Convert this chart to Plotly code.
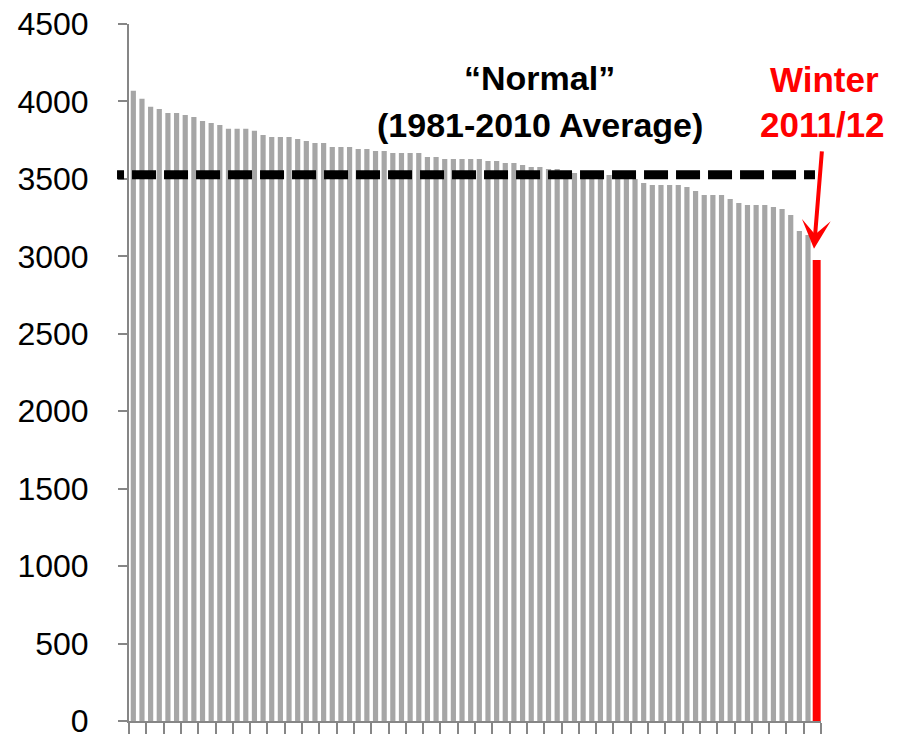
import plotly.graph_objects as go

# Winters ranked from highest to lowest value (last = Winter 2011/12)
ranks = [str(i) for i in range(1, 81)]
values = [
    4069, 4017, 3965, 3952, 3926, 3926, 3913, 3900, 3874, 3861,
    3848, 3823, 3823, 3823, 3810, 3784, 3771, 3771, 3771, 3758,
    3745, 3732, 3732, 3706, 3706, 3706, 3693, 3693, 3680, 3680,
    3667, 3667, 3667, 3667, 3641, 3641, 3628, 3628, 3628, 3628,
    3628, 3615, 3615, 3602, 3602, 3589, 3577, 3577, 3564, 3564,
    3551, 3538, 3535, 3530, 3528, 3525, 3518, 3510, 3500, 3474,
    3461, 3461, 3461, 3461, 3448, 3422, 3396, 3396, 3396, 3370,
    3344, 3331, 3331, 3331, 3318, 3305, 3267, 3163, 3137, 2976,
]
normal_value = 3526
y_ticks = [0, 500, 1000, 1500, 2000, 2500, 3000, 3500, 4000, 4500]

GRAY = "#A6A6A6"
RED = "#FF0000"
AXIS = "#868686"
FONT = "Liberation Sans"

colors = [GRAY] * (len(values) - 1) + [RED]
widths = [0.6] * (len(values) - 1) + [0.92]

fig = go.Figure()
fig.add_trace(go.Bar(
    x=ranks, y=values, marker=dict(color=colors, line=dict(width=0)),
    width=widths, showlegend=False, hoverinfo="skip",
))

# dashed "normal" line
dash_pattern = "7px,8px," + ",".join(["24px,8px"] * 25)
fig.add_shape(
    type="line", xref="paper", yref="y",
    x0=-0.0173, x1=0.9913, y0=normal_value, y1=normal_value,
    line=dict(color="black", width=9, dash=dash_pattern), layer="above",
)

fig.add_annotation(
    xref="paper", yref="paper", x=(539 - 129) / 692, y=(721.5 - 78) / 697.5,
    text="<b>“Normal”</b>", showarrow=False,
    font=dict(family=FONT, size=34, color="black"), xanchor="center", yanchor="middle",
)
fig.add_annotation(
    xref="paper", yref="paper", x=(540 - 129) / 692, y=(721.5 - 125) / 697.5,
    text="<b>(1981-2010 Average)</b>", showarrow=False,
    font=dict(family=FONT, size=34, color="black"), xanchor="center", yanchor="middle",
)
fig.add_annotation(
    xref="paper", yref="paper", x=(824 - 129) / 692, y=(721.5 - 80) / 697.5,
    text="<b>Winter</b>", showarrow=False,
    font=dict(family=FONT, size=35, color=RED), xanchor="center", yanchor="middle",
)
fig.add_annotation(
    xref="paper", yref="paper", x=(822 - 129) / 692, y=(721.5 - 125) / 697.5,
    text="<b>2011/12</b>", showarrow=False,
    font=dict(family=FONT, size=35, color=RED), xanchor="center", yanchor="middle",
)
# arrow
fig.add_annotation(
    xref="paper", yref="paper", x=(814 - 129) / 692, y=(721.5 - 249) / 697.5,
    ax=8, ay=-99, axref="pixel", ayref="pixel",
    text="", showarrow=True, arrowhead=3, arrowwidth=4, arrowsize=1.2,
    arrowcolor=RED, standoff=0,
)

fig.update_layout(
    width=904, height=735,
    margin=dict(l=129, r=83, t=24, b=13.5, autoexpand=False),
    paper_bgcolor="white", plot_bgcolor="white",
    bargap=0.4,
    xaxis=dict(
        type="category", showticklabels=False, showgrid=False, zeroline=False,
        showline=True, linecolor=AXIS, linewidth=2, automargin=False,
        ticks="outside", ticklen=11, tickwidth=2, tickcolor=AXIS,
        tickson="boundaries", range=[-0.5, len(values) - 0.5],
    ),
    yaxis=dict(
        range=[0, 4500], tickvals=y_ticks, showgrid=False, zeroline=False,
        showline=True, linecolor=AXIS, linewidth=2, automargin=False,
        ticks="outside", ticklen=9, tickwidth=2, tickcolor=AXIS,
        tickfont=dict(family=FONT, size=32, color="black"),
        ticklabelstandoff=23, ticklabeloverflow="allow",
    ),
)

fig.write_html(
    "out.html",
    config={"displayModeBar": False},
    post_script="document.body.style.margin='0';document.body.style.overflow='hidden';",
)
